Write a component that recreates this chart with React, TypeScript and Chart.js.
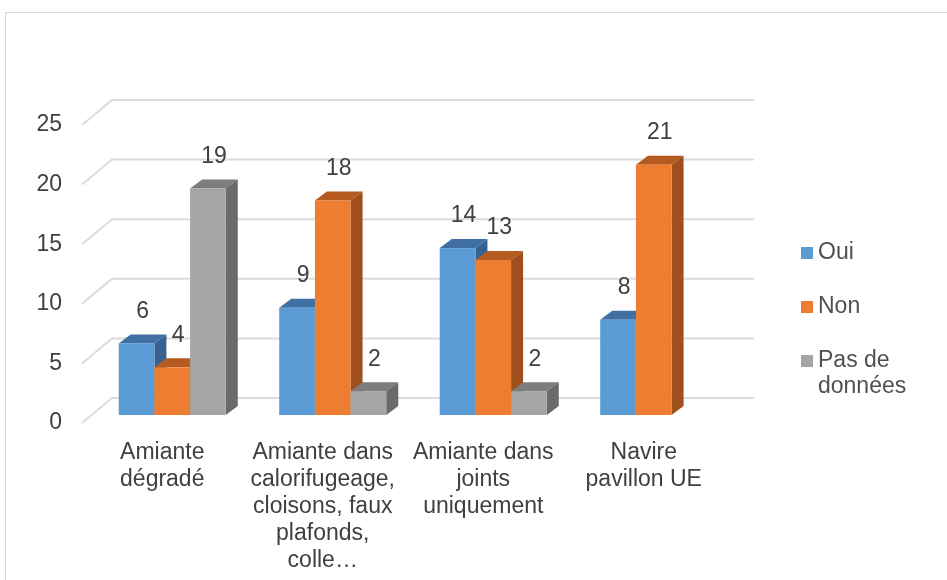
import React, { useEffect, useRef } from "react";
import { Chart, registerables } from "chart.js";
Chart.register(...registerables);

const categories: string[][] = [
  ["Amiante", "dégradé"],
  ["Amiante dans", "calorifugeage,", "cloisons, faux", "plafonds,", "colle…"],
  ["Amiante dans", "joints", "uniquement"],
  ["Navire", "pavillon UE"],
];
const seriesNames = ["Oui", "Non", "Pas de données"];
const oui = [6, 9, 14, 8];
const non = [4, 18, 13, 21];
const pasDeDonnees: (number | null)[] = [19, 2, 2, null];
const yMin = 0;
const yMax = 25;
const yStep = 5;

const FRONT = ["#5b9bd5", "#ed7d31", "#a5a5a5"];
const TOP = ["#3f6fa3", "#b65b1f", "#7d7d7d"];
const SIDE = ["#37628f", "#9e4f1b", "#6a6a6a"];

const FONT = "'Liberation Sans', Arial, sans-serif";
const TEXT = "#404040";

// 3D geometry (pixels)
const WALL_DX = 30, WALL_DY = 25;
const BAR_DX = 10, BAR_DY = 8;
const DEPTH_DX = 12, DEPTH_DY = 9;

const threeD = {
  id: "threeD",
  beforeDraw(chart: any) {
    const ctx = chart.ctx;
    ctx.save();
    ctx.fillStyle = "#ffffff";
    ctx.fillRect(0, 0, chart.width, chart.height);
    ctx.strokeStyle = "#d9d9d9";
    ctx.lineWidth = 1;
    ctx.strokeRect(5.5, 12.5, chart.width + 20, chart.height + 20);
    ctx.restore();
  },
  beforeDatasetsDraw(chart: any) {
    const ctx = chart.ctx;
    const { left, right } = chart.chartArea;
    const ys = chart.scales.y;
    ctx.save();
    // gridlines
    ctx.strokeStyle = "#dcdcdc";
    ctx.lineWidth = 2;
    ys.ticks.forEach((t: any) => {
      const yf = ys.getPixelForValue(t.value);
      ctx.beginPath();
      ctx.moveTo(left, yf);
      ctx.lineTo(left + WALL_DX, yf - WALL_DY);
      ctx.lineTo(right + WALL_DX, yf - WALL_DY);
      ctx.stroke();
    });
    // bars
    const n = chart.data.labels.length;
    for (let i = 0; i < n; i++) {
      chart.data.datasets.forEach((ds: any, d: number) => {
        const v = ds.data[i];
        if (v === null || v === undefined) return;
        const el = chart.getDatasetMeta(d).data[i];
        const w = el.width;
        const L = el.x - w / 2 + BAR_DX;
        const R = el.x + w / 2 + BAR_DX;
        const T = el.y - BAR_DY;
        const B = el.base - BAR_DY;
        // top
        ctx.fillStyle = TOP[d];
        ctx.beginPath();
        ctx.moveTo(L, T);
        ctx.lineTo(L + DEPTH_DX, T - DEPTH_DY);
        ctx.lineTo(R + DEPTH_DX, T - DEPTH_DY);
        ctx.lineTo(R, T);
        ctx.closePath();
        ctx.fill();
        // side
        ctx.fillStyle = SIDE[d];
        ctx.beginPath();
        ctx.moveTo(R, T);
        ctx.lineTo(R + DEPTH_DX, T - DEPTH_DY);
        ctx.lineTo(R + DEPTH_DX, B - DEPTH_DY);
        ctx.lineTo(R, B);
        ctx.closePath();
        ctx.fill();
        // front
        ctx.fillStyle = FRONT[d];
        ctx.fillRect(L, T, R - L, B - T);
      });
    }
    // data labels
    ctx.fillStyle = TEXT;
    ctx.font = `23px ${FONT}`;
    ctx.textAlign = "center";
    ctx.textBaseline = "middle";
    chart.data.datasets.forEach((ds: any, d: number) => {
      chart.getDatasetMeta(d).data.forEach((el: any, i: number) => {
        const v = ds.data[i];
        if (v === null || v === undefined) return;
        ctx.fillText(String(v), el.x + BAR_DX + 6, el.y - BAR_DY - 32);
      });
    });
    // legend
    ctx.textAlign = "left";
    let rowY = 253;
    chart.data.datasets.forEach((ds: any, d: number) => {
      const words = String(ds.label).split(" ");
      const lines: string[] = [];
      let cur = "";
      words.forEach((wd) => {
        const test = cur ? cur + " " + wd : wd;
        if (cur && ctx.measureText(test).width > 110) {
          lines.push(cur);
          cur = wd;
        } else cur = test;
      });
      if (cur) lines.push(cur);
      ctx.fillStyle = FRONT[d];
      ctx.fillRect(801, rowY - 6, 12, 12);
      ctx.fillStyle = "#505050";
      lines.forEach((ln, k) => ctx.fillText(ln, 818, rowY + k * 26));
      rowY += (lines.length - 1) * 26 + 54;
    });
    ctx.restore();
    return false;
  },
};

export default function App() {
  const ref = useRef<HTMLCanvasElement>(null);
  useEffect(() => {
    if (!ref.current) return;
    const chart = new Chart(ref.current, {
      type: "bar",
      data: {
        labels: categories as any,
        datasets: [
          { label: seriesNames[0], data: oui, backgroundColor: FRONT[0] },
          { label: seriesNames[1], data: non, backgroundColor: FRONT[1] },
          { label: seriesNames[2], data: pasDeDonnees as any, backgroundColor: FRONT[2] },
        ],
      },
      options: {
        responsive: false,
        animation: false,
        events: [],
        categoryPercentage: 0.667,
        barPercentage: 1.0,
        layout: { padding: { top: 125, left: 0, right: 223, bottom: 0 } },
        plugins: { legend: { display: false }, tooltip: { enabled: false } },
        scales: {
          x: {
            grid: { display: false, drawTicks: false },
            border: { display: false },
            ticks: {
              color: TEXT,
              font: { family: FONT, size: 23, lineHeight: 27 / 23 },
              padding: 16,
              autoSkip: false,
              maxRotation: 0,
              minRotation: 0,
            },
            afterFit: (s: any) => { s.height = 157; },
          },
          y: {
            min: yMin,
            max: yMax,
            grid: { display: false, drawTicks: false },
            border: { display: false },
            ticks: {
              stepSize: yStep,
              color: TEXT,
              font: { family: FONT, size: 23 },
              padding: 20,
            },
            afterFit: (s: any) => { s.width = 82; },
          },
        },
      } as any,
      plugins: [threeD],
    });
    return () => chart.destroy();
  }, []);
  return (
    <div style={{ position: "absolute", left: 0, top: 0, width: 947, height: 580 }}>
      <canvas ref={ref} width={947} height={580} style={{ display: "block" }} />
    </div>
  );
}
